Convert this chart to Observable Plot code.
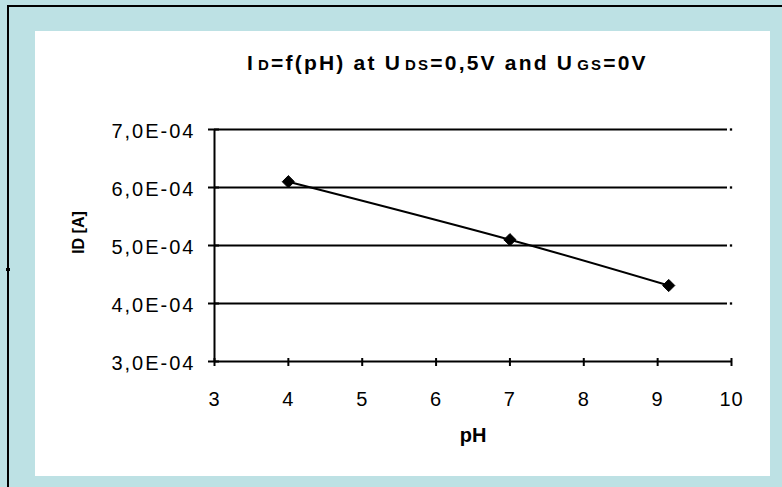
<!DOCTYPE html>
<html>
<head>
<meta charset="utf-8">
<script src="https://cdn.jsdelivr.net/npm/d3@7"></script>
<script src="https://cdn.jsdelivr.net/npm/@observablehq/plot@0.6"></script>
<style>
  html, body { margin: 0; padding: 0; background: #bde1e4; }
  #wrap { position: relative; width: 782px; height: 487px; overflow: hidden; background: #bde1e4; font-family: "Liberation Sans", Arial, sans-serif; }
  #topline { position: absolute; left: 7px; top: 5px; width: 775px; height: 2px; background: #000; }
  #leftline { position: absolute; left: 7px; top: 5px; width: 2px; height: 482px; background: #000; }
  #leftmark { position: absolute; left: 6px; top: 268px; width: 4px; height: 3px; background: #000; }
  #inner { position: absolute; left: 35px; top: 31px; width: 735px; height: 445px; background: #fff; }
  #title { position: absolute; left: 247px; top: 52px; font-size: 21px; line-height: 21px; font-weight: bold; letter-spacing: 2.2px; white-space: nowrap; color: #000; }
  #title .sub { font-size: 15px; margin-left: 3px; }
  #chart { position: absolute; left: 0; top: 0; }
  #chart svg { background: transparent; }
  #chart [aria-label="y-axis tick label"] text { letter-spacing: 2px; }
  #chart [aria-label="x-axis tick label"] text { letter-spacing: 1px; }
</style>
</head>
<body>
<div id="wrap">
  <div id="inner"></div>
  <div id="topline"></div>
  <div id="leftline"></div>
  <div id="leftmark"></div>
  <div id="chart"></div>
  <div id="title"></div>
</div>
<script>
// ---- data ----
const pH = [4, 7, 9.15];
const idA = [6.1e-4, 5.1e-4, 4.31e-4];
const xTicks = [3, 4, 5, 6, 7, 8, 9, 10];
const yTicks = [3e-4, 4e-4, 5e-4, 6e-4, 7e-4];
const yTickLabels = ["3,0E-04", "4,0E-04", "5,0E-04", "6,0E-04", "7,0E-04"];
const gridValues = [4e-4, 5e-4, 6e-4, 7e-4];
const titleParts = [["I", false], ["D", true], ["=f(pH) at U", false], ["DS", true], ["=0,5V and U", false], ["GS", true], ["=0V", false]];
const xLabel = "pH";
const yLabel = "ID [A]";

// title with subscripts
const titleEl = document.getElementById("title");
titleParts.forEach(([t, sub]) => {
  const s = document.createElement("span");
  s.textContent = t;
  if (sub) s.className = "sub";
  titleEl.appendChild(s);
});

const points = pH.map((x, i) => ({x, y: idA[i]}));

const chart = Plot.plot({
  width: 782,
  height: 487,
  marginLeft: 214,
  marginRight: 51,
  marginTop: 129,
  marginBottom: 126,
  style: {background: "transparent", fontFamily: "Liberation Sans, Arial, sans-serif", fontSize: "20px", color: "#000"},
  x: {domain: [3, 10]},
  y: {domain: [3e-4, 7e-4]},
  marks: [
    // gridlines
    Plot.ruleY(gridValues, {y: d => d, x1: 3, x2: 10, insetRight: 4, stroke: "#000", strokeWidth: 2}),
    Plot.dot(gridValues, {x: () => 10, y: d => d, symbol: "square", r: 1.3, fill: "#000", stroke: "none", dx: -0.5}),
    // axis lines
    Plot.ruleY([3e-4], {y: d => d, x1: 3, x2: 10, stroke: "#000", strokeWidth: 2}),
    Plot.ruleX([3], {x: d => d, y1: 3e-4, y2: 7e-4, stroke: "#000", strokeWidth: 2}),
    // tick marks crossing the axes
    Plot.ruleX(xTicks, {x: d => d, y1: 3e-4, y2: 3e-4, insetTop: -3, insetBottom: -5, stroke: "#000", strokeWidth: 2}),
    Plot.ruleY(yTicks, {y: d => d, x1: 3, x2: 3, insetLeft: -6, insetRight: -5, stroke: "#000", strokeWidth: 2}),
    // tick labels
    Plot.axisX(xTicks, {tickSize: 0, tickPadding: 30, label: null, fontSize: 20, tickFormat: d => String(d)}),
    Plot.axisY(yTicks, {tickSize: 0, tickPadding: 19, label: null, fontSize: 20, dy: 2,
      tickFormat: d => yTickLabels[yTicks.indexOf(d)]}),
    // axis titles
    Plot.text([xLabel], {frameAnchor: "bottom", dy: 80, text: d => d, fontWeight: "bold", fontSize: 20, fill: "#000", letterSpacing: 2}),
    Plot.text([yLabel], {frameAnchor: "left", textAnchor: "middle", rotate: -90, dx: -136, dy: -13, text: d => d, fontWeight: "bold", fontSize: 16, fill: "#000"}),
    // data
    Plot.line(points, {x: "x", y: "y", stroke: "#000", strokeWidth: 2, curve: "catmull-rom"}),
    Plot.dot(points, {x: "x", y: "y", symbol: "diamond2", r: 5.5, fill: "#000", stroke: "#000", strokeWidth: 1})
  ]
});
document.getElementById("chart").appendChild(chart);
</script>
</body>
</html>
